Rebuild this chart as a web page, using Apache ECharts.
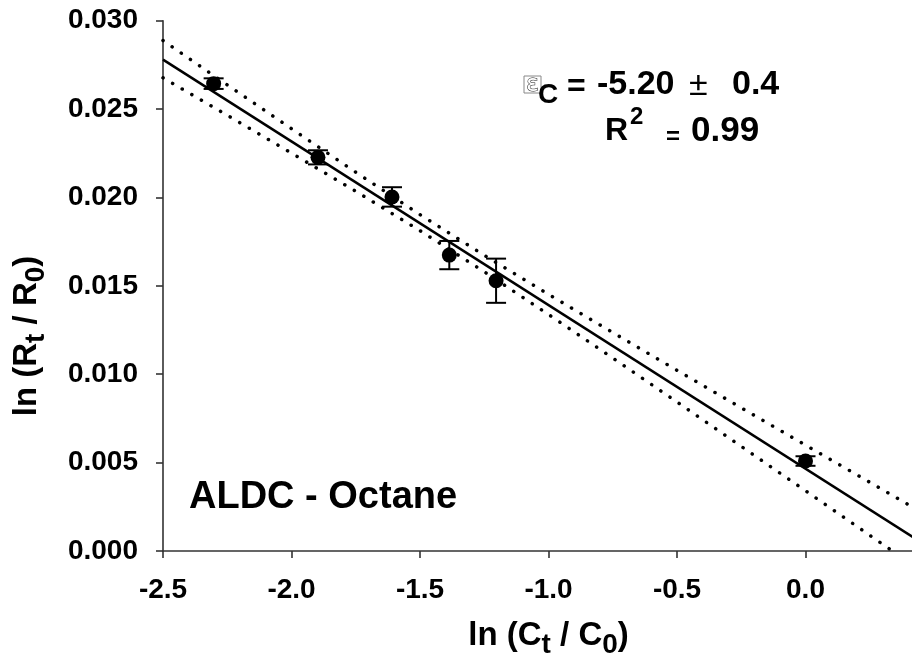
<!DOCTYPE html>
<html><head><meta charset="utf-8">
<script src="https://cdn.jsdelivr.net/npm/echarts@6/dist/echarts.min.js"></script>
<style>html,body{margin:0;padding:0;background:#fff}#c{width:912px;height:658px}</style>
</head><body><div id="c"></div>
<script>
// ---- data ----
const xValues = [-2.303, -1.897, -1.609, -1.386, -1.204, 0.0];
const yValues = [0.02644, 0.02227, 0.02003, 0.01674, 0.01529, 0.00509];
const yErrors = [0.0003, 0.0004, 0.00055, 0.0008, 0.00125, 0.00027];
const fitX = [-2.5, 0.5];
const fitY = [0.0278, 0.00003];
const bandX = [-2.5, -2.25, -2.0, -1.75, -1.5, -1.25, -1.0, -0.75, -0.5, -0.25, 0.0, 0.25, 0.5];
const bandUpper = [0.02888, 0.02637, 0.02389, 0.02143, 0.01903, 0.01673, 0.01452, 0.01236, 0.01022, 0.0081, 0.00599, 0.00389, 0.00178];
const bandLower = [0.02677, 0.02465, 0.02251, 0.02035, 0.01812, 0.0158, 0.01338, 0.01092, 0.00843, 0.00592, 0.00341, 0.00089, -0.00163];
const xAxisRange = [-2.5, 0.5];
const yAxisRange = [0, 0.030];

const FF = '"Liberation Sans", Arial, sans-serif';
const chart = echarts.init(document.getElementById('c'), null, {renderer: 'canvas'});
const pair = (xs, ys) => xs.map((x, i) => [x, ys[i]]);
const dotted = {color: '#000', width: 3.5, type: [0.1, 11], cap: 'round', opacity: 1};

const richAxis = {
  n: {fontFamily: FF, fontWeight: 'bold', fontSize: 33, color: '#000'},
  s: {fontFamily: FF, fontWeight: 'bold', fontSize: 28, color: '#000', padding: [18, 0, 0, 0]}
};
function txt(x, y, text, font, extra) {
  return {type: 'text', silent: true, style: Object.assign({
    x: x, y: y, text: text, font: font, fill: '#000',
    align: 'left', textAlign: 'left', verticalAlign: 'middle', textVerticalAlign: 'middle'
  }, extra || {})};
}

chart.setOption({
  animation: false,
  backgroundColor: '#fff',
  grid: {left: 163, top: 20.7, bottom: 107, right: -22, containLabel: false, outerBoundsMode: 'none'},
  xAxis: {
    type: 'value', min: xAxisRange[0], max: xAxisRange[1], interval: 0.5,
    axisLine: {onZero: false, lineStyle: {color: '#333', width: 1.6}},
    axisTick: {show: true, inside: false, length: 7, lineStyle: {color: '#333', width: 1.6}},
    splitLine: {show: false},
    axisLabel: {margin: 25, color: '#000', fontFamily: FF, fontWeight: 'bold', fontSize: 28,
      formatter: v => v.toFixed(1)},
    name: '{n|ln (C}{s|t}{n| / C}{s|0}{n|)}',
    nameLocation: 'middle', nameGap: 62,
    nameTextStyle: {rich: richAxis}
  },
  yAxis: {
    type: 'value', min: yAxisRange[0], max: yAxisRange[1], interval: 0.005,
    axisLine: {show: true, onZero: false, lineStyle: {color: '#333', width: 1.6}},
    axisTick: {show: true, inside: false, length: 7, lineStyle: {color: '#333', width: 1.6}},
    splitLine: {show: false},
    axisLabel: {margin: 25, color: '#000', fontFamily: FF, fontWeight: 'bold', fontSize: 28,
      formatter: v => v.toFixed(3)}
  },
  series: [
    {type: 'line', data: pair(bandX, bandUpper), symbol: 'none', lineStyle: dotted, z: 2, silent: true},
    {type: 'line', data: pair(bandX, bandLower), symbol: 'none', lineStyle: dotted, z: 2, silent: true},
    {type: 'line', data: pair(fitX, fitY), symbol: 'none', lineStyle: {color: '#000', width: 2.5, opacity: 1}, z: 2, silent: true},
    {
      type: 'custom', z: 3, silent: true,
      data: xValues.map((x, i) => [x, yValues[i] - yErrors[i], yValues[i] + yErrors[i]]),
      encode: {x: 0, y: [1, 2]},
      renderItem: function (params, api) {
        const x = api.value(0);
        const lo = api.coord([x, api.value(1)]);
        const hi = api.coord([x, api.value(2)]);
        const hw = 10;
        const st = {stroke: '#000', lineWidth: 2};
        return {type: 'group', children: [
          {type: 'line', shape: {x1: lo[0], y1: lo[1], x2: hi[0], y2: hi[1]}, style: st},
          {type: 'line', shape: {x1: lo[0] - hw, y1: lo[1], x2: lo[0] + hw, y2: lo[1]}, style: st},
          {type: 'line', shape: {x1: hi[0] - hw, y1: hi[1], x2: hi[0] + hw, y2: hi[1]}, style: st}
        ]};
      }
    },
    {type: 'scatter', data: pair(xValues, yValues), symbol: 'circle', symbolSize: 15,
      itemStyle: {color: '#000', opacity: 1}, z: 4, silent: true}
  ],
  graphic: [
    {type: 'text', x: 27, y: 336, rotation: Math.PI / 2, silent: true,
      style: {text: '{n|ln (R}{s|t}{n| / R}{s|0}{n|)}', rich: richAxis,
        align: 'center', textAlign: 'center', verticalAlign: 'middle', textVerticalAlign: 'middle'}},
    {type: 'rect', silent: true, shape: {x: 524, y: 76, width: 17, height: 17},
      style: {fill: 'none', stroke: '#888', lineWidth: 1}},
    txt(532.5, 85, 'ε', '23px "DejaVu Sans"', {align: 'center', textAlign: 'center', fill: '#fff', stroke: '#111', lineWidth: 1}),
    txt(538, 95, 'C', 'bold 28px ' + FF),
    txt(567, 87, '=', 'bold 32px ' + FF),
    txt(597, 85, '-5.20', 'bold 34px ' + FF),
    txt(689, 86, '±', '34px ' + FF),
    txt(732, 85, '0.4', 'bold 34px ' + FF),
    txt(605, 131, 'R', 'bold 32px ' + FF),
    txt(630, 117.5, '2', 'bold 24px ' + FF),
    txt(666, 137, '=', 'bold 24px ' + FF),
    txt(691, 131.5, '0.99', 'bold 35px ' + FF),
    txt(189, 498, 'ALDC - Octane', 'bold 38px ' + FF)
  ]
});
</script>
</body></html>
